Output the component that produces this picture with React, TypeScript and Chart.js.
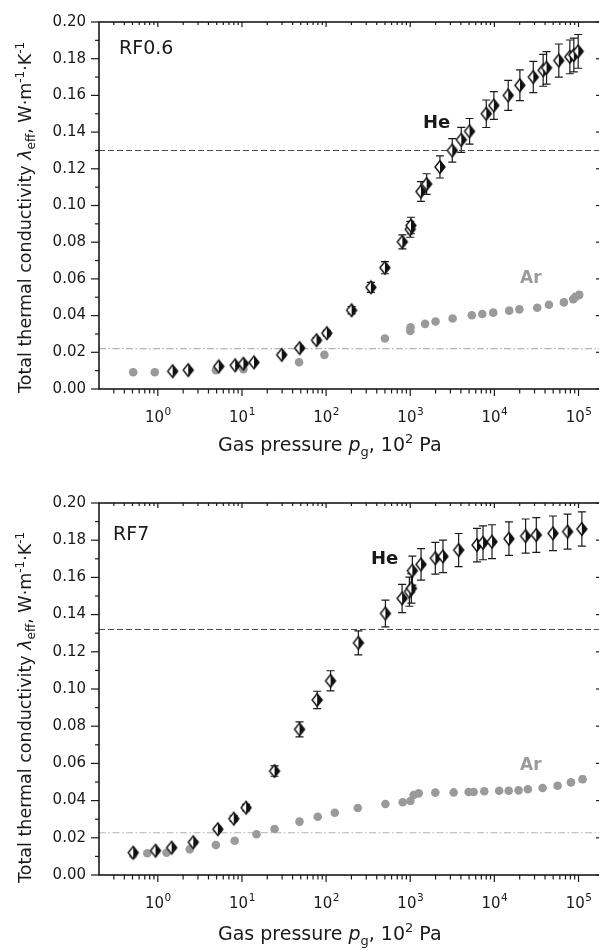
import React, { useEffect, useRef } from "react";
import { Chart, registerables } from "chart.js";
Chart.register(...registerables);

const FONT = '"DejaVu Sans", "Liberation Sans", sans-serif';

// ---------------- data: panel RF0.6 ----------------
const heTopP = [1.5, 2.3, 5.3, 8.3, 10.4, 13.9, 29.7, 48.5, 77, 102, 201, 341, 500, 806, 1000, 1020, 1340, 1566, 2255, 3160, 4040, 5070, 8010, 9860, 14600, 20100, 29000, 38000, 41700, 58300, 78900, 88000, 99100];
const heTopK = [0.0097, 0.0103, 0.0123, 0.0129, 0.0138, 0.0145, 0.0186, 0.0223, 0.0266, 0.0304, 0.0429, 0.0554, 0.0661, 0.0802, 0.087, 0.0891, 0.1076, 0.1117, 0.121, 0.13, 0.1358, 0.1404, 0.15, 0.1545, 0.16, 0.1655, 0.17, 0.1737, 0.175, 0.179, 0.181, 0.182, 0.184];
const heTopErr = [0.0005, 0.0005, 0.0006, 0.0006, 0.0007, 0.0007, 0.0009, 0.0011, 0.0013, 0.0015, 0.002, 0.0027, 0.0033, 0.0038, 0.0043, 0.0045, 0.0054, 0.0056, 0.006, 0.0064, 0.0068, 0.007, 0.0075, 0.0076, 0.0082, 0.0084, 0.0085, 0.0087, 0.0089, 0.009, 0.0092, 0.0092, 0.0092];
const arTopP = [0.51, 0.92, 4.9, 10.4, 47.7, 95.5, 500, 1000, 1010, 1500, 2000, 3190, 5400, 7180, 9700, 15000, 19800, 32300, 44500, 67000, 86500, 92000, 102000];
const arTopK = [0.0091, 0.0091, 0.0103, 0.0108, 0.0146, 0.0186, 0.0275, 0.0316, 0.0336, 0.0355, 0.0368, 0.0384, 0.0402, 0.0409, 0.0416, 0.0427, 0.0434, 0.0443, 0.0459, 0.0472, 0.049, 0.0502, 0.0513];
const arTopErr = [0.0003, 0.0003, 0.0003, 0.0003, 0.0004, 0.0005, 0.0007, 0.0008, 0.0008, 0.0009, 0.0009, 0.001, 0.001, 0.001, 0.0011, 0.0011, 0.0011, 0.0012, 0.0012, 0.0013, 0.0014, 0.0015, 0.0016];
const heTopLimit = 0.13;
const arTopLimit = 0.022;

// ---------------- data: panel RF7 ----------------
const heBotP = [0.51, 0.94, 1.46, 2.64, 5.17, 8.0, 11.2, 24.4, 48.3, 78.3, 113, 242, 507, 800, 977, 1032, 1060, 1344, 1987, 2450, 3760, 6210, 7330, 9370, 14900, 23500, 31500, 49700, 74100, 109600];
const heBotK = [0.012, 0.0131, 0.0147, 0.0176, 0.0246, 0.0303, 0.0362, 0.0559, 0.0783, 0.0941, 0.1044, 0.1248, 0.1406, 0.1487, 0.1523, 0.1541, 0.1636, 0.167, 0.1703, 0.1713, 0.1747, 0.1774, 0.1786, 0.1792, 0.1808, 0.1822, 0.1828, 0.1837, 0.1846, 0.186];
const heBotErr = [0.0006, 0.0007, 0.0007, 0.0009, 0.0012, 0.0015, 0.0018, 0.0028, 0.004, 0.0047, 0.0054, 0.0064, 0.0072, 0.0076, 0.0078, 0.0079, 0.0078, 0.0085, 0.0085, 0.0087, 0.0089, 0.009, 0.0091, 0.0091, 0.009, 0.0092, 0.0093, 0.0093, 0.0094, 0.0092];
const arBotP = [0.51, 0.75, 1.27, 2.4, 4.9, 8.2, 14.9, 24.4, 48.3, 79.6, 127, 238, 507, 814, 1004, 1099, 1260, 1986, 3280, 4940, 5670, 7590, 11400, 14800, 19400, 25000, 37400, 56400, 81300, 111700];
const arBotK = [0.0108, 0.0117, 0.012, 0.0138, 0.0161, 0.0184, 0.0219, 0.0247, 0.0287, 0.0313, 0.0335, 0.036, 0.0382, 0.0391, 0.0398, 0.043, 0.0439, 0.0443, 0.0444, 0.0446, 0.0446, 0.045, 0.0453, 0.0453, 0.0455, 0.0461, 0.0468, 0.048, 0.0498, 0.0515];
const arBotErr = [0.0003, 0.0003, 0.0003, 0.0003, 0.0004, 0.0004, 0.0005, 0.0005, 0.0006, 0.0007, 0.0007, 0.0008, 0.0008, 0.0009, 0.0009, 0.0009, 0.001, 0.001, 0.001, 0.001, 0.001, 0.001, 0.0011, 0.0011, 0.0011, 0.0012, 0.0012, 0.0013, 0.0015, 0.0017];
const heBotLimit = 0.132;
const arBotLimit = 0.0227;

// ---------------- axes ----------------
const X_MIN = 0.2;
const X_MAX = 1.8e5;
const Y_MIN = 0;
const Y_MAX = 0.2;
const Y_LABEL_STEP = 0.02;
const Y_MINOR_STEP = 0.01;
const X_DECADES = [1, 10, 100, 1000, 10000, 100000];
const X_EXPONENTS = ["0", "1", "2", "3", "4", "5"];
const X_MULTIPLIERS = [1, 2, 3, 4, 5, 6, 7, 8, 9];
const X_DECADE_EXPS = [-1, 0, 1, 2, 3, 4, 5];

const CANVAS_W = 610;
const PLOT_LEFT = 99;
const PLOT_RIGHT = 600;
const PAD_LEFT = 40;
const INK = "#1a1a1a";
const AR_GREY = "#9a9a9a";

type Seg = { t: string; size: number; italic?: boolean; bold?: boolean; dy?: number };

function drawRich(ctx: CanvasRenderingContext2D, x: number, y: number, segs: Seg[], color: string) {
  let cx = x;
  ctx.fillStyle = color;
  ctx.textAlign = "left";
  ctx.textBaseline = "alphabetic";
  for (const s of segs) {
    ctx.font = `${s.italic ? "italic " : ""}${s.bold ? "bold " : ""}${s.size}px ${FONT}`;
    ctx.fillText(s.t, cx, y + (s.dy || 0));
    cx += ctx.measureText(s.t).width;
  }
}

function makeDiamond(): HTMLCanvasElement {
  const c = document.createElement("canvas");
  c.width = 14;
  c.height = 16;
  const g = c.getContext("2d")!;
  const cx = 7, cy = 8, hw = 5, hh = 6.3;
  g.beginPath();
  g.moveTo(cx, cy - hh);
  g.lineTo(cx + hw, cy);
  g.lineTo(cx, cy + hh);
  g.closePath();
  g.fillStyle = "#111";
  g.fill();
  g.beginPath();
  g.moveTo(cx, cy - hh);
  g.lineTo(cx - hw, cy);
  g.lineTo(cx, cy + hh);
  g.closePath();
  g.fillStyle = "#fff";
  g.fill();
  g.beginPath();
  g.moveTo(cx, cy - hh);
  g.lineTo(cx + hw, cy);
  g.lineTo(cx, cy + hh);
  g.lineTo(cx - hw, cy);
  g.closePath();
  g.strokeStyle = "#111";
  g.lineWidth = 1.4;
  g.stroke();
  return c;
}

type PanelProps = {
  top: number;
  height: number;
  plotTop: number;
  plotBottom: number;
  heP: number[];
  heK: number[];
  heE: number[];
  arP: number[];
  arK: number[];
  arE: number[];
  heLimit: number;
  arLimit: number;
  label: string;
  labelX: number;
  labelY: number;
  heX: number;
  heY: number;
  arX: number;
  arY: number;
  yTitleX: number;
  yTitleY: number;
  xTitleX: number;
  xTitleY: number;
};

function Panel(p: PanelProps) {
  const ref = useRef<HTMLCanvasElement | null>(null);
  useEffect(() => {
    const canvas = ref.current;
    if (!canvas) return;
    const diamond = makeDiamond();

    const errBars = {
      id: "errBars",
      beforeDatasetsDraw(chart: any) {
        const { ctx, scales } = chart;
        const xs = scales.x, ys = scales.y;
        const groups = [
          { P: p.arP, K: p.arK, E: p.arE, color: AR_GREY, cap: 3 },
          { P: p.heP, K: p.heK, E: p.heE, color: INK, cap: 4 },
        ];
        ctx.save();
        ctx.lineWidth = 1.2;
        for (const g of groups) {
          ctx.strokeStyle = g.color;
          for (let i = 0; i < g.P.length; i++) {
            const px = xs.getPixelForValue(g.P[i]);
            const t = ys.getPixelForValue(g.K[i] + g.E[i]);
            const b = ys.getPixelForValue(g.K[i] - g.E[i]);
            ctx.beginPath();
            ctx.moveTo(px, t);
            ctx.lineTo(px, b);
            ctx.moveTo(px - g.cap, t);
            ctx.lineTo(px + g.cap, t);
            ctx.moveTo(px - g.cap, b);
            ctx.lineTo(px + g.cap, b);
            ctx.stroke();
          }
        }
        ctx.restore();
      },
    };

    const frame = {
      id: "frame",
      afterDatasetsDraw(chart: any) {
        const { ctx, chartArea: a, scales } = chart;
        const xs = scales.x, ys = scales.y;
        ctx.save();
        ctx.strokeStyle = INK;
        ctx.lineWidth = 1.6;
        ctx.strokeRect(a.left, a.top, a.right - a.left, a.bottom - a.top);
        ctx.lineWidth = 1.2;
        const line = (x1: number, y1: number, x2: number, y2: number) => {
          ctx.beginPath();
          ctx.moveTo(x1, y1);
          ctx.lineTo(x2, y2);
          ctx.stroke();
        };
        const nY = Math.round((Y_MAX - Y_MIN) / Y_MINOR_STEP);
        const ratio = Math.round(Y_LABEL_STEP / Y_MINOR_STEP);
        for (let i = 0; i <= nY; i++) {
          const v = Y_MIN + i * Y_MINOR_STEP;
          const py = ys.getPixelForValue(v);
          const major = i % ratio === 0;
          line(a.left - (major ? 8 : 4), py, a.left, py);
          if (major) line(a.right - 4, py, a.right, py);
        }
        for (const e of X_DECADE_EXPS) {
          for (const m of X_MULTIPLIERS) {
            const v = m * Math.pow(10, e);
            if (v < X_MIN * 1.0001 || v > X_MAX) continue;
            const px = xs.getPixelForValue(v);
            const major = m === 1;
            line(px, a.bottom, px, a.bottom + (major ? 7 : 4.5));
            line(px, a.top, px, a.top + (major ? 5 : 3));
          }
        }
        // x tick labels: 10 with raised exponent
        ctx.fillStyle = INK;
        ctx.textBaseline = "alphabetic";
        ctx.textAlign = "left";
        X_DECADES.forEach((v, i) => {
          const px = xs.getPixelForValue(v);
          ctx.font = `15px ${FONT}`;
          const w1 = ctx.measureText("10").width;
          ctx.font = `10.5px ${FONT}`;
          const w2 = ctx.measureText(X_EXPONENTS[i]).width;
          const x0 = px - (w1 + w2) / 2;
          ctx.font = `15px ${FONT}`;
          ctx.fillText("10", x0, a.bottom + 32.5);
          ctx.font = `10.5px ${FONT}`;
          ctx.fillText(X_EXPONENTS[i], x0 + w1 + 0.5, a.bottom + 25.5);
        });
        ctx.restore();
      },
      afterDraw(chart: any) {
        const { ctx } = chart;
        ctx.save();
        // y title (rotated)
        ctx.translate(p.yTitleX, p.yTitleY);
        ctx.rotate(-Math.PI / 2);
        drawRich(ctx, 0, 0, [
          { t: "Total thermal conductivity ", size: 17.5 },
          { t: "λ", size: 17.5, italic: true },
          { t: "eff", size: 12, dy: 4 },
          { t: ", W·m", size: 17.5 },
          { t: "-1", size: 12, dy: -7 },
          { t: "·K", size: 17.5 },
          { t: "-1", size: 12, dy: -7 },
        ], INK);
        ctx.restore();
        ctx.save();
        drawRich(ctx, p.xTitleX, p.xTitleY, [
          { t: "Gas pressure ", size: 19 },
          { t: "p", size: 19, italic: true },
          { t: "g", size: 13, dy: 5 },
          { t: ", 10", size: 19 },
          { t: "2", size: 13, dy: -8 },
          { t: " Pa", size: 19 },
        ], INK);
        drawRich(ctx, p.labelX, p.labelY, [{ t: p.label, size: 19 }], INK);
        drawRich(ctx, p.heX, p.heY, [{ t: "He", size: 18, bold: true }], INK);
        drawRich(ctx, p.arX, p.arY, [{ t: "Ar", size: 17, bold: true }], AR_GREY);
        ctx.restore();
      },
    };

    const chart = new Chart(canvas, {
      type: "scatter",
      data: {
        datasets: [
          {
            label: "He",
            data: p.heP.map((x, i) => ({ x, y: p.heK[i] })),
            pointStyle: diamond as any,
            pointRadius: 6,
            borderWidth: 0,
          },
          {
            label: "Ar",
            data: p.arP.map((x, i) => ({ x, y: p.arK[i] })),
            pointStyle: "circle",
            pointRadius: 4.3,
            backgroundColor: AR_GREY,
            borderColor: AR_GREY,
            borderWidth: 0,
          },
          {
            label: "He limit",
            data: [{ x: X_MIN, y: p.heLimit }, { x: X_MAX, y: p.heLimit }],
            showLine: true,
            pointRadius: 0,
            borderColor: "#4a4a4a",
            borderWidth: 1.1,
            borderDash: [6, 3],
          },
          {
            label: "Ar limit",
            data: [{ x: X_MIN, y: p.arLimit }, { x: X_MAX, y: p.arLimit }],
            showLine: true,
            pointRadius: 0,
            borderColor: "#b4b4b4",
            borderWidth: 1.1,
            borderDash: [7, 2.5, 1.5, 2.5],
          },
        ],
      },
      options: {
        responsive: false,
        animation: false,
        events: [],
        layout: { padding: { left: PAD_LEFT, top: p.plotTop, right: CANVAS_W - PLOT_RIGHT, bottom: 0 } },
        plugins: { legend: { display: false }, tooltip: { enabled: false } },
        scales: {
          x: {
            type: "logarithmic",
            min: X_MIN,
            max: X_MAX,
            grid: { display: false, drawTicks: false },
            border: { display: false },
            ticks: { display: false },
            afterFit: (s: any) => {
              s.height = p.height - p.plotBottom;
            },
          },
          y: {
            type: "linear",
            min: Y_MIN,
            max: Y_MAX,
            grid: { display: false, drawTicks: false },
            border: { display: false },
            ticks: {
              stepSize: Y_LABEL_STEP,
              callback: (v: any) => Number(v).toFixed(2),
              font: { family: FONT, size: 15 },
              color: INK,
              padding: 13,
            },
            afterFit: (s: any) => {
              s.width = PLOT_LEFT - PAD_LEFT;
            },
          },
        },
      } as any,
      plugins: [errBars, frame],
    });
    return () => chart.destroy();
  }, []);
  return (
    <canvas
      ref={ref}
      width={CANVAS_W}
      height={p.height}
      style={{ position: "absolute", left: 0, top: p.top, width: CANVAS_W, height: p.height }}
    />
  );
}

export default function App() {
  return (
    <div style={{ position: "absolute", left: 0, top: 0, width: 599, height: 950, overflow: "hidden", background: "#fff" }}>
      <Panel
        top={0}
        height={470}
        plotTop={16}
        plotBottom={389}
        heP={heTopP}
        heK={heTopK}
        heE={heTopErr}
        arP={arTopP}
        arK={arTopK}
        arE={arTopErr}
        heLimit={heTopLimit}
        arLimit={arTopLimit}
        label="RF0.6"
        labelX={119}
        labelY={54}
        heX={423}
        heY={128}
        arX={520}
        arY={283}
        yTitleX={31}
        yTitleY={393}
        xTitleX={218}
        xTitleY={451}
      />
      <Panel
        top={470}
        height={480}
        plotTop={33}
        plotBottom={405}
        heP={heBotP}
        heK={heBotK}
        heE={heBotErr}
        arP={arBotP}
        arK={arBotK}
        arE={arBotErr}
        heLimit={heBotLimit}
        arLimit={arBotLimit}
        label="RF7"
        labelX={113}
        labelY={70}
        heX={371}
        heY={94}
        arX={520}
        arY={300}
        yTitleX={31}
        yTitleY={413}
        xTitleX={218}
        xTitleY={470}
      />
    </div>
  );
}
